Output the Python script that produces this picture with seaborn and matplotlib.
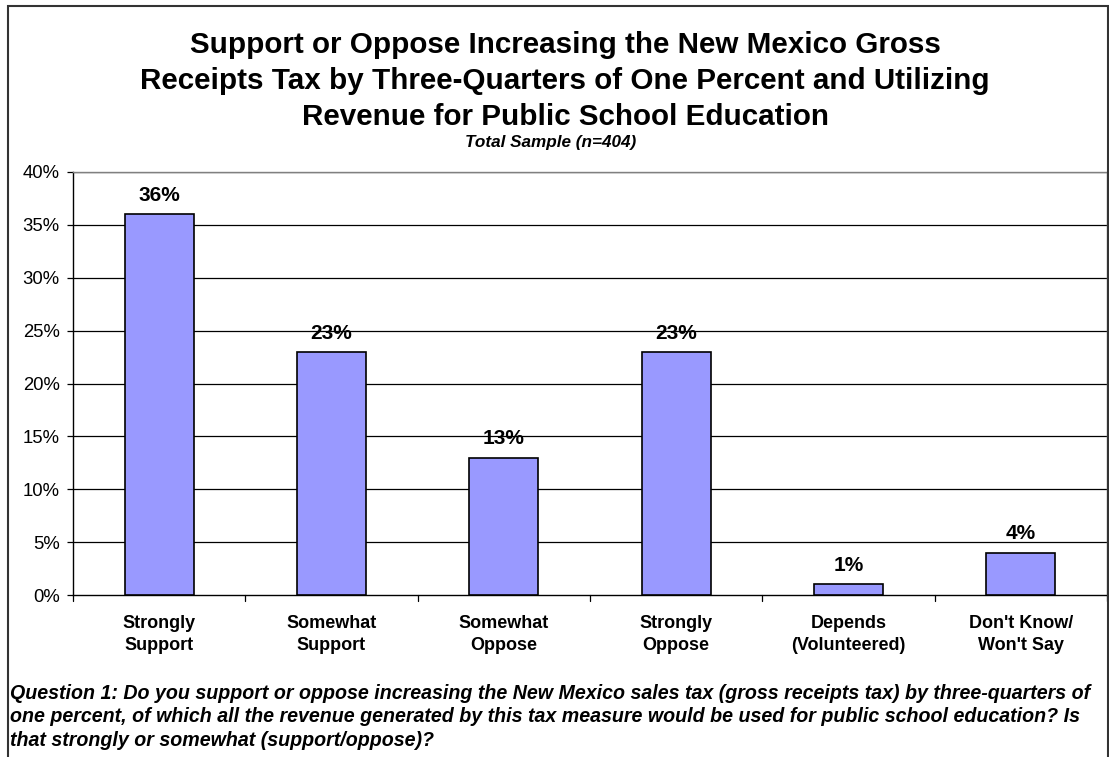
import matplotlib
matplotlib.use("Agg")
import matplotlib.pyplot as plt
import seaborn as sns
import pandas as pd
from matplotlib.patches import Rectangle

categories = ["Strongly\nSupport", "Somewhat\nSupport", "Somewhat\nOppose",
              "Strongly\nOppose", "Depends\n(Volunteered)", "Don't Know/\nWon't Say"]
values = [36, 23, 13, 23, 1, 4]
yticks = [0, 5, 10, 15, 20, 25, 30, 35, 40]
ytick_labels = ["0%", "5%", "10%", "15%", "20%", "25%", "30%", "35%", "40%"]

title = ("Support or Oppose Increasing the New Mexico Gross\n"
         "Receipts Tax by Three-Quarters of One Percent and Utilizing\n"
         "Revenue for Public School Education")
subtitle = "Total Sample (n=404)"
footer = ("Question 1: Do you support or oppose increasing the New Mexico sales tax (gross receipts tax) by three-quarters of\n"
          "one percent, of which all the revenue generated by this tax measure would be used for public school education? Is\n"
          "that strongly or somewhat (support/oppose)?")

sns.set_theme(style="white")
plt.rcParams['font.family'] = ['Liberation Sans', 'DejaVu Sans']
plt.rcParams['text.color'] = 'black'
plt.rcParams['ytick.color'] = 'black'
plt.rcParams['xtick.color'] = 'black'

df = pd.DataFrame({"cat": categories, "val": values})

fig = plt.figure(figsize=(11.09, 7.57), dpi=100)
W, H = 1109, 757
left, right, top, bottom = 73, 1107, 172, 595
ax = fig.add_axes([left / W, 1 - bottom / H, (right - left) / W, (bottom - top) / H])

sns.barplot(data=df, x="cat", y="val", ax=ax, color="#9999FF", saturation=1,
            width=0.4, edgecolor="black", linewidth=1.2, zorder=3)

ax.set_ylim(0, 40)
ax.set_xlim(-0.5, len(categories) - 0.5)
ax.set_yticks(yticks)
ax.set_yticklabels(ytick_labels, fontsize=13.3)
ax.set_xlabel("")
ax.set_ylabel("")
ax.set_xticks([])
ax.set_xticklabels([])
for yv in yticks[1:]:
    ax.axhline(yv, color="black", linewidth=0.9, zorder=1)

# category labels and boundary ticks
for i, c in enumerate(categories):
    ax.text(i, -1.85, c, ha="center", va="top", fontsize=13, fontweight="bold",
            linespacing=1.42)
for b in range(len(categories) + 1):
    ax.plot([b - 0.5, b - 0.5], [0, -0.55], color="black", lw=0.9, clip_on=False)

for i, v in enumerate(values):
    ax.text(i, v + 1.25, f"{v}%", ha="center", va="baseline", fontsize=15, fontweight="bold")

for s in ["left", "bottom"]:
    ax.spines[s].set_color("black")
    ax.spines[s].set_linewidth(1.0)
for s in ["top", "right"]:
    ax.spines[s].set_color("#808080")
    ax.spines[s].set_linewidth(1.0)
ax.tick_params(axis="y", length=4.5, width=0.9, color="black", direction="out", pad=5,
               left=True, labelcolor="black")
ax.tick_params(axis="x", length=0)

fig.text(565 / W, 1 - 81 / H, title, ha="center", va="center", fontsize=21.3,
         fontweight="bold", linespacing=1.37)
fig.text(551 / W, 1 - 143 / H, subtitle, ha="center", va="center", fontsize=12.3,
         fontweight="bold", style="italic")
fig.text(10 / W, 1 - 717 / H, footer, ha="left", va="center", fontsize=14.1,
         fontweight="bold", style="italic", linespacing=1.27)

fig.patches.append(Rectangle((8 / W, -0.1), (1108 - 8) / W, 1 - 6 / H + 0.1,
                             transform=fig.transFigure, fill=False, edgecolor="#333333",
                             linewidth=1.5, clip_on=False))

fig.savefig("out.png", dpi=100)
